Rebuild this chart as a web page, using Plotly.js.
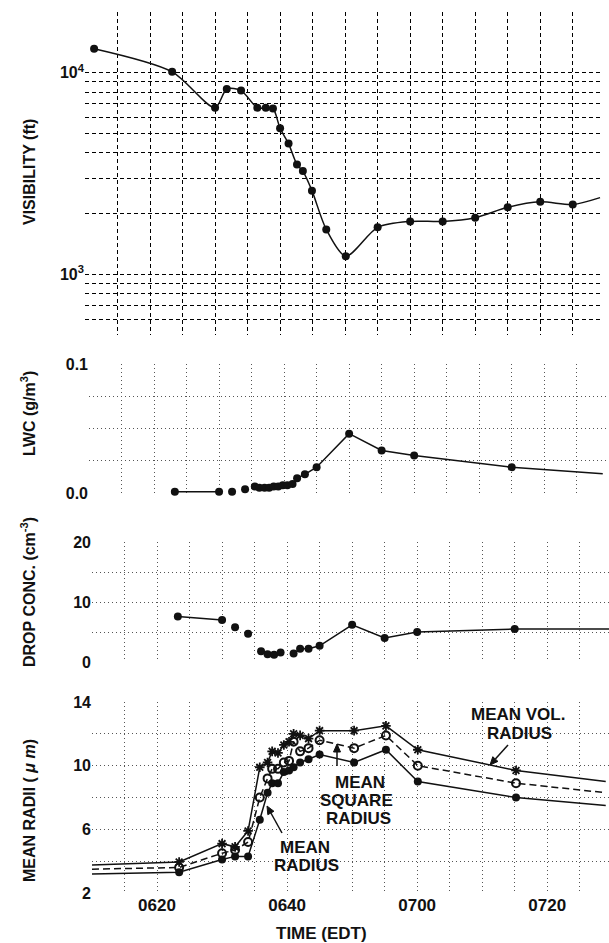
<!DOCTYPE html>
<html>
<head>
<meta charset="utf-8">
<script src="https://cdn.plot.ly/plotly-3.0.1.min.js"></script>
<style>html,body{margin:0;padding:0;background:#fff;}#chart{width:609px;height:943px;}</style>
</head>
<body>
<div id="chart"></div>
<script>
// ---- data (time = minutes after 0600 EDT) ----
const visTime = [11.4, 23.4, 30, 31.8, 34, 36.5, 37.8, 38.9, 40, 41.3, 42.6, 43.5, 44.9, 47.1, 50.1, 55, 60, 65, 70, 75, 80, 85];
const visValue = [13150, 10100, 6700, 8300, 8150, 6700, 6700, 6650, 5300, 4450, 3500, 3250, 2600, 1670, 1230, 1710, 1830, 1830, 1910, 2150, 2290, 2220];
const visLineEnd = [89.2, 2400];

const lwcTime = [23.2, 30, 32, 34, 35.5, 36.2, 37, 37.7, 38.4, 39.1, 39.8, 40.5, 41.3, 42, 43.2, 45, 50, 55, 60, 75];
const lwcValue = [0.001, 0.001, 0.001, 0.003, 0.005, 0.004, 0.004, 0.004, 0.005, 0.005, 0.006, 0.006, 0.007, 0.0115, 0.0145, 0.020, 0.046, 0.033, 0.029, 0.020];
const lwcBreaksAfter = [30, 32, 34];
const lwcLineEnd = [89, 0.015];

const dropTime = [23.2, 30, 32, 34, 36, 37, 38, 39, 41, 42, 43.3, 45, 50, 55, 60, 75];
const dropValue = [7.6, 7.0, 5.8, 4.7, 1.8, 1.3, 1.2, 1.6, 1.4, 2.2, 2.2, 2.7, 6.2, 4.0, 5.0, 5.5];
const dropBreaksAfter = [30, 32, 34, 39];
const dropLineEnd = [89.5, 5.5];

const radTime = [23.4, 30, 32, 34, 35.8, 37, 37.7, 38.6, 39.5, 40.3, 41, 42, 43.3, 45, 50.3, 55.2, 60.1, 75.2];
const meanRadius = [3.3, 4.1, 4.3, 4.3, 6.6, 8.3, 8.9, 8.9, 9.6, 9.7, 9.9, 10.2, 10.4, 10.7, 10.2, 11.0, 9.0, 8.0];
const meanSquareRadius = [3.6, 4.5, 4.7, 5.2, 8.0, 9.2, 9.8, 9.8, 10.2, 10.3, 11.5, 10.9, 11.1, 11.6, 11.1, 11.9, 10.0, 8.9];
const meanVolRadius = [3.95, 5.1, 4.9, 5.9, 9.9, 10.2, 10.9, 10.8, 11.3, 11.5, 12.0, 11.9, 11.7, 12.2, 12.2, 12.5, 11.0, 9.7];
const radLineStartTime = 10, radLineEndTime = 89;
const meanRadiusEnds = [3.2, 7.5];
const meanSquareRadiusEnds = [3.5, 8.3];
const meanVolRadiusEnds = [3.76, 9.0];

const timeLabelVals = [20, 40, 60, 80];
const timeLabelText = ['0620', '0640', '0700', '0720'];
const timeGridVals = [10, 15, 25, 30, 35, 45, 50, 55, 65, 70, 75, 85];

const visLabelVals = [1000, 10000];
const visLabelText = ['10<sup>3</sup>', '10<sup>4</sup>'];
const visGridVals = [500, 600, 700, 800, 900, 2000, 3000, 4000, 5000, 6000, 7000, 8000, 9000, 20000];
const lwcLabelVals = [0, 0.1];
const lwcLabelText = ['0.0', '0.1'];
const lwcGridVals = [0.025, 0.05, 0.075];
const dropLabelVals = [0, 10, 20];
const dropLabelText = ['0', '10', '20'];
const dropGridVals = [5, 15];
const radLabelVals = [2, 6, 10, 14];
const radLabelText = ['2', '6', '10', '14'];
const radGridVals = [4, 8, 12];

// ---- helpers ----
const W = 609, H = 943;
const PX = p => p / W;
const PY = p => 1 - p / H;
function segments(t, v, breaksAfter, end) {
  const xs = [], ys = [];
  t.forEach((ti, i) => {
    xs.push(ti); ys.push(v[i]);
    if (breaksAfter.includes(ti)) { xs.push(null); ys.push(null); }
  });
  if (end) { xs.push(end[0]); ys.push(end[1]); }
  return {xs, ys};
}
const FONT = 'Liberation Sans, Arial, Helvetica, sans-serif';
const black = '#111';

const lwcSeg = segments(lwcTime, lwcValue, lwcBreaksAfter, lwcLineEnd);
const dropSeg = segments(dropTime, dropValue, dropBreaksAfter, dropLineEnd);

const traces = [
  {x: visTime.concat([visLineEnd[0]]), y: visValue.concat([visLineEnd[1]]), xaxis: 'x4', yaxis: 'y4',
   mode: 'lines', line: {color: black, width: 1.5, shape: 'spline', smoothing: 0.8}},
  {x: visTime, y: visValue, xaxis: 'x4', yaxis: 'y4', mode: 'markers',
   marker: {color: black, size: 8}},
  {x: lwcSeg.xs, y: lwcSeg.ys, xaxis: 'x3', yaxis: 'y3', mode: 'lines', connectgaps: false,
   line: {color: black, width: 1.5}, cliponaxis: false},
  {x: lwcTime, y: lwcValue, xaxis: 'x3', yaxis: 'y3', mode: 'markers', cliponaxis: false,
   marker: {color: black, size: 8}},
  {x: dropSeg.xs, y: dropSeg.ys, xaxis: 'x2', yaxis: 'y2', mode: 'lines', connectgaps: false,
   line: {color: black, width: 1.5}, cliponaxis: false},
  {x: dropTime, y: dropValue, xaxis: 'x2', yaxis: 'y2', mode: 'markers', cliponaxis: false,
   marker: {color: black, size: 8}},
  {x: [radLineStartTime].concat(radTime, [radLineEndTime]), y: [meanRadiusEnds[0]].concat(meanRadius, [meanRadiusEnds[1]]),
   mode: 'lines', line: {color: black, width: 1.5}, cliponaxis: false},
  {x: [radLineStartTime].concat(radTime, [radLineEndTime]), y: [meanSquareRadiusEnds[0]].concat(meanSquareRadius, [meanSquareRadiusEnds[1]]),
   mode: 'lines', line: {color: black, width: 1.5, dash: '7px,4px'}, cliponaxis: false},
  {x: [radLineStartTime].concat(radTime, [radLineEndTime]), y: [meanVolRadiusEnds[0]].concat(meanVolRadius, [meanVolRadiusEnds[1]]),
   mode: 'lines', line: {color: black, width: 1.5}, cliponaxis: false},
  {x: radTime, y: meanRadius, mode: 'markers', marker: {color: black, size: 8}, cliponaxis: false},
  {x: radTime, y: meanSquareRadius, mode: 'markers', cliponaxis: false,
   marker: {symbol: 'circle-open', color: black, size: 8, line: {width: 2, color: black}}},
  {x: radTime, y: meanVolRadius, mode: 'markers', cliponaxis: false,
   marker: {symbol: 'asterisk-open', color: black, size: 8, line: {width: 1.8, color: black}}}
];

const topGrid = {gridcolor: '#000', griddash: '4px,3px', gridwidth: 1};
const lowGrid = {gridcolor: '#555', griddash: '1px,3px', gridwidth: 1};
function xax(domain, grid, extra) {
  return Object.assign({domain: domain, range: [10, 89.5], tickmode: 'array', tickvals: timeLabelVals, ticktext: timeLabelText,
    showticklabels: false, ticks: '', zeroline: false, showline: false, automargin: false, fixedrange: true,
    minor: Object.assign({tickmode: 'array', tickvals: timeGridVals, showgrid: true, ticks: ''}, grid)}, grid, extra);
}
function yax(domain, range, vals, text, gridVals, grid, extra) {
  return Object.assign({domain: domain, range: range, tickmode: 'array', tickvals: vals, ticktext: text,
    ticks: '', zeroline: false, showline: false, automargin: false, fixedrange: true,
    tickfont: {family: FONT, size: 16, color: black, weight: 'bold'},
    minor: Object.assign({tickmode: 'array', tickvals: gridVals, showgrid: true, ticks: ''}, grid)}, grid, extra);
}

const layout = {
  width: W, height: H, margin: {l: 0, r: 0, t: 0, b: 0},
  paper_bgcolor: '#fff', plot_bgcolor: '#fff', showlegend: false,
  xaxis: xax([PX(92), 1], lowGrid, {showticklabels: true, anchor: 'y',
    tickfont: {family: FONT, size: 17, color: black, weight: 'bold'}}),
  yaxis: yax([PY(893), PY(702)], [2, 14], radLabelVals, radLabelText, radGridVals, lowGrid, {anchor: 'x'}),
  xaxis2: xax([PX(92), 1], lowGrid, {anchor: 'y2'}),
  yaxis2: yax([PY(662), PY(542)], [0, 20], dropLabelVals, dropLabelText, dropGridVals, lowGrid, {anchor: 'x2'}),
  xaxis3: xax([PX(89), PX(606)], lowGrid, {anchor: 'y3'}),
  yaxis3: yax([PY(493), PY(364)], [0, 0.1], lwcLabelVals, lwcLabelText, lwcGridVals, lowGrid, {anchor: 'x3'}),
  xaxis4: xax([PX(85), PX(602)], topGrid, {anchor: 'y4'}),
  yaxis4: yax([PY(335), PY(12)], [Math.log10(500), Math.log10(20000)], visLabelVals, visLabelText, visGridVals, topGrid,
    {anchor: 'x4', type: 'log'}),
  annotations: [],
  shapes: []
};

const titleFont = {family: FONT, size: 16, color: black, weight: 'bold'};
function note(text, px, py, extra) {
  layout.annotations.push(Object.assign({text: text, xref: 'paper', yref: 'paper', x: PX(px), y: PY(py),
    xanchor: 'center', yanchor: 'middle', showarrow: false, font: titleFont}, extra || {}));
}
note('VISIBILITY (ft)', 29, 172, {textangle: -90});
note('LWC (g/m<sup>3</sup>)', 28, 414, {textangle: -90});
note('DROP CONC. (cm<sup>-3</sup>)', 28, 592, {textangle: -90});
note('MEAN RADII ( <i>μ m</i>)', 29, 811, {textangle: -90});
note('TIME (EDT)', 321, 933, {font: Object.assign({}, titleFont, {size: 17})});

const lblFont = Object.assign({}, titleFont, {size: 17});
note('MEAN VOL.', 518, 714, {font: lblFont});
note('RADIUS', 519, 733, {font: lblFont});
note('MEAN', 360, 782, {font: lblFont});
note('SQUARE', 357, 800, {font: lblFont});
note('RADIUS', 359, 818, {font: lblFont});
note('MEAN', 305, 847, {font: lblFont});
note('RADIUS', 306, 865, {font: lblFont});

// pointer arrows (tail px -> head px)
function arrow(tx, ty, hx, hy) {
  const dx = hx - tx, dy = hy - ty, L = Math.hypot(dx, dy);
  const ux = dx / L, uy = dy / L, len = 8, half = 3.5;
  const bx = hx - ux * len, by = hy - uy * len;
  layout.shapes.push({type: 'line', xref: 'paper', yref: 'paper', x0: PX(tx), y0: PY(ty), x1: PX(bx), y1: PY(by),
    line: {color: black, width: 1.5}});
  const p1 = [bx - uy * half, by + ux * half], p2 = [bx + uy * half, by - ux * half];
  layout.shapes.push({type: 'path', xref: 'paper', yref: 'paper', fillcolor: black, line: {color: black, width: 1},
    path: `M ${PX(hx)} ${PY(hy)} L ${PX(p1[0])} ${PY(p1[1])} L ${PX(p2[0])} ${PY(p2[1])} Z`});
}
arrow(508, 745, 490, 765);
arrow(337, 766, 337, 744);
arrow(282, 833, 267, 806);

Plotly.newPlot('chart', traces, layout, {staticPlot: true, displayModeBar: false});
</script>
</body>
</html>
